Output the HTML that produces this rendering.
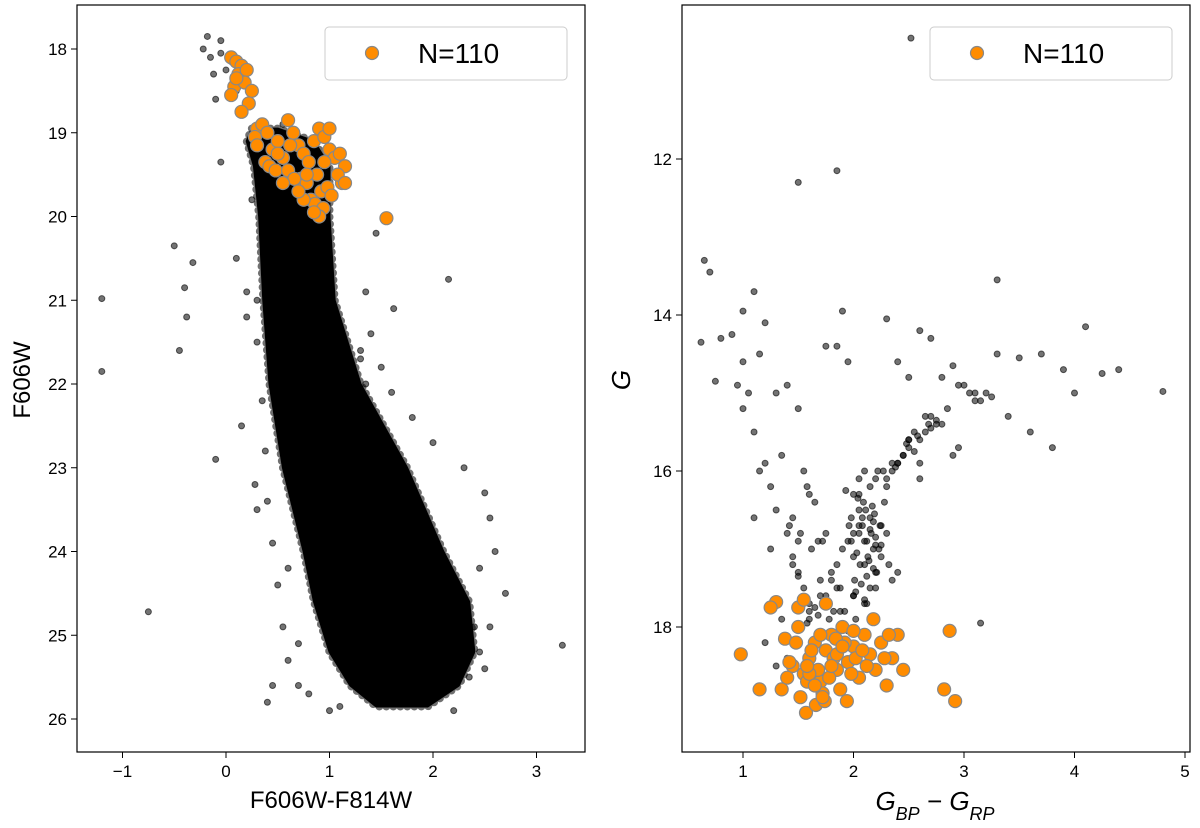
<!DOCTYPE html>
<html><head><meta charset="utf-8"><style>
body{margin:0;background:#fff;}
svg{display:block;font-family:"Liberation Sans",sans-serif;}
</style></head><body>
<svg id="fig" width="1200" height="828" viewBox="0 0 1200 828"></svg>
<script>
// ---- Left panel data (F606W-F814W, F606W) ----
const leftXTicks=[-1,0,1,2,3];
const leftYTicks=[18,19,20,21,22,23,24,25,26];
// dense main-sequence envelope: magnitude, blue edge, red edge
const envMag=[18.95,19.1,19.4,20.0,21.0,22.0,23.0,24.0,24.6,25.2,25.6,25.85];
const envBlue=[0.25,0.2,0.27,0.32,0.36,0.42,0.55,0.75,0.85,1.0,1.2,1.45];
const envRed=[0.5,0.85,1.0,1.0,1.05,1.3,1.75,2.1,2.35,2.4,2.25,1.95];
const leftBlackX=[-0.18,-0.22,-0.05,0.0,-0.1,-0.05,-0.12,0.05,0.1,-0.15,0.55,0.62,0.45,0.35,-0.05,0.25,-1.2,-1.2,-0.5,-0.4,-0.38,-0.45,-0.32,-0.75,-0.1,0.2,0.3,0.1,0.2,1.35,1.62,2.15,1.3,1.5,1.6,1.8,2.0,2.3,2.5,2.55,2.6,2.45,2.7,2.55,3.25,1.45,1.1,1.2,0.15,0.28,0.3,0.7,0.45,0.4,1.9,2.2,2.35,0.6,0.5,1.15,1.2,1.25,1.3,1.35,1.4,1.5,1.55,1.6,1.7,1.8,1.9,2.0,2.1,2.2,2.3,2.4,2.45,2.5,1.4,1.45,1.65,1.75,1.85,1.95,2.05,2.25,0.3,0.35,0.38,0.4,0.45,0.5,0.55,0.6,0.7,0.8,1.0,1.1];
const leftBlackY=[17.85,18.0,17.9,18.25,18.6,18.05,18.3,18.15,18.5,18.1,18.9,19.05,19.5,19.6,19.35,19.8,20.98,21.85,20.35,20.85,21.2,21.6,20.55,24.72,22.9,21.2,21.0,20.5,20.9,20.9,21.1,20.75,21.6,21.8,22.1,22.4,22.7,23.0,23.3,23.6,24.0,24.2,24.5,24.9,25.12,20.2,21.3,21.8,22.5,23.2,23.5,25.1,25.6,25.8,24.8,25.9,25.5,24.2,21.9,21.5,21.9,22.2,21.7,22.0,22.4,22.6,22.9,23.1,23.3,23.6,23.9,24.1,24.4,24.6,24.8,24.9,25.2,25.4,21.4,22.8,23.0,23.5,24.0,24.3,24.7,25.3,21.5,22.2,22.8,23.4,23.9,24.4,24.9,25.3,25.6,25.7,25.9,25.85];
const leftOrangeX=[0.05,0.1,0.15,0.12,0.2,0.08,0.18,0.05,0.25,0.22,0.15,0.1,0.3,0.28,0.35,0.4,0.45,0.5,0.55,0.6,0.38,0.42,0.48,0.65,0.7,0.75,0.8,0.85,0.9,0.95,1.0,1.05,1.1,1.15,0.72,0.78,0.88,0.92,0.98,1.02,1.12,0.6,0.66,0.82,0.86,0.94,0.75,0.7,1.08,0.9,0.55,0.5,0.62,1.0,0.95,1.55,0.3,0.85,1.15,0.78];
const leftOrangeY=[18.1,18.15,18.2,18.3,18.25,18.45,18.4,18.55,18.5,18.65,18.75,18.35,18.95,19.05,18.9,19.0,19.2,19.1,19.3,18.85,19.35,19.4,19.45,19.0,19.15,19.25,19.35,19.1,18.95,19.05,19.2,19.3,19.25,19.4,19.55,19.6,19.5,19.7,19.65,19.75,19.6,19.45,19.55,19.8,19.85,19.9,19.8,19.7,19.5,20.0,19.6,19.25,19.15,18.95,19.35,20.02,19.15,19.95,19.6,19.5];
// ---- Right panel data (GBP-GRP, G) ----
const rightXTicks=[1,2,3,4,5];
const rightYTicks=[12,14,16,18];
const rightBlackX=[2.52,1.5,1.85,0.65,0.7,0.62,0.8,0.9,1.0,1.1,1.15,1.2,0.75,1.3,1.4,1.5,1.85,1.9,1.95,2.3,2.4,2.6,2.8,2.9,3.0,3.1,3.2,3.3,3.5,3.7,3.9,4.1,4.25,4.4,4.8,4.0,3.8,3.25,2.7,2.5,2.45,2.35,2.2,2.1,2.0,2.05,2.15,2.25,2.3,1.95,1.9,2.0,2.1,2.2,1.8,1.7,1.6,1.5,1.45,1.4,1.3,1.25,1.2,1.1,1.05,1.0,0.95,1.35,1.55,1.65,1.75,1.85,2.4,2.55,2.65,2.75,2.85,2.95,3.05,3.15,3.4,2.9,2.6,2.3,2.05,2.12,2.18,1.98,2.08,2.2,2.15,2.0,1.92,2.25,2.28,1.88,1.82,2.02,2.1,2.32,1.6,1.7,1.4,1.3,1.2,1.5,1.15,1.45,1.6,1.35,1.78,3.15,1.25,1.1,1.0,2.5,2.6,2.8,2.95,3.1,3.3,3.6,1.58,1.68,2.22,2.4,2.35,1.95,2.05,1.75,2.5,2.7,
2.0,2.05,2.1,2.15,2.2,2.25,2.03,2.08,2.13,2.18,2.23,1.98,2.06,2.11,2.16,2.21,2.01,2.09,2.14,2.19,2.04,2.12,2.17,2.07,1.96,2.24,2.0,2.1,2.2,2.15,2.05,1.93,2.27,2.12,2.02,2.18,2.3,2.35,2.4,2.45,2.5,2.55,2.6,2.65,2.7,2.75,2.38,2.48,2.58,2.68,1.85,1.8,1.75,1.7,1.65,1.6,1.55,1.5,1.45,1.72,1.62,1.52,1.42,1.88,1.78,1.68,1.58];
const rightBlackY=[10.45,12.3,12.15,13.3,13.45,14.35,14.3,14.25,13.95,13.7,14.5,14.1,14.85,15.0,14.9,15.2,14.4,13.95,14.6,14.05,14.6,14.2,14.8,14.65,14.9,15.1,15.0,13.55,14.55,14.5,14.7,14.15,14.75,14.7,14.98,15.0,15.7,15.05,15.3,15.6,15.8,15.9,16.1,16.0,16.3,16.5,16.6,16.7,16.8,16.9,17.0,17.1,17.2,16.95,17.4,17.6,17.7,17.3,17.1,16.8,16.5,16.2,15.9,15.5,15.0,14.6,14.9,15.8,16.0,16.4,16.8,17.2,15.9,15.5,15.3,15.4,15.2,15.7,15.0,15.1,15.3,15.8,15.9,16.2,16.8,16.9,17.0,16.6,16.7,17.3,17.5,17.6,17.8,17.1,16.4,17.5,17.8,17.9,17.7,17.2,17.9,18.1,18.4,18.5,18.2,16.9,16.0,16.6,16.3,17.9,18.5,17.95,17.0,16.6,15.2,15.6,16.1,15.4,14.9,15.0,14.5,15.5,16.2,16.9,16.0,17.3,17.4,18.05,16.3,14.4,14.8,14.3,
16.8,16.7,16.9,16.75,16.85,16.95,17.05,16.6,17.1,16.65,17.0,16.9,17.2,16.5,16.8,17.3,17.4,16.4,17.15,16.55,16.35,17.35,16.45,17.45,16.7,16.7,17.6,17.65,17.5,16.2,16.1,16.25,16.0,17.7,17.55,17.25,16.1,16.0,15.9,15.8,15.7,15.75,15.6,15.5,15.45,15.35,15.95,15.65,15.55,15.4,17.5,17.3,17.6,17.4,17.75,17.8,17.5,17.35,17.2,16.9,17.0,16.8,16.7,17.8,17.9,17.85,17.95];
const rightOrangeX=[0.98,1.15,1.3,1.38,1.45,1.5,1.55,1.6,1.65,1.7,1.75,1.8,1.85,1.9,1.95,2.0,2.05,2.1,2.15,2.2,2.25,2.3,2.35,2.4,1.35,1.42,1.52,1.58,1.62,1.68,1.72,1.78,1.82,1.88,1.92,1.98,2.02,2.08,2.12,1.48,1.57,1.66,1.74,1.84,1.94,2.32,2.45,2.82,2.87,2.92,1.55,1.75,1.6,1.7,1.85,2.0,1.65,1.8,1.9,1.5,1.4,1.25,1.58,1.72,2.18,2.28];
const rightOrangeY=[18.35,18.8,17.68,18.15,18.5,17.75,18.6,18.4,18.2,18.7,18.3,18.1,18.55,18.0,18.45,18.25,18.65,18.1,18.35,18.55,18.2,18.75,18.4,18.1,18.8,18.45,18.9,18.7,18.3,18.55,18.85,18.65,18.4,18.8,18.2,18.6,18.4,18.3,18.5,18.2,19.1,19.0,18.95,18.15,18.95,18.1,18.55,18.8,18.05,18.95,17.65,17.7,18.6,18.1,18.35,18.05,18.75,18.5,18.25,18.0,18.65,17.75,18.5,18.9,17.9,18.4];

const NS="http://www.w3.org/2000/svg";
const svg=document.getElementById('fig');
function mk(tag,attrs,parent){const e=document.createElementNS(NS,tag);for(const k in attrs)e.setAttribute(k,attrs[k]);(parent||svg).appendChild(e);return e;}
function panel(name,box,xs,ys,xTicks,yTicks){
  const g=mk('g',{});
  
  
  const sx=v=>xs.p0+(v-xs.v0)*xs.k, sy=v=>ys.p0+(v-ys.v0)*ys.k;
  xTicks.forEach(t=>{const x=sx(t);
    const l=mk('line',{x1:x,x2:x,y1:box.y2,y2:box.y2+6,stroke:'#000','stroke-width':1},g);
    
    const tx=mk('text',{x:x,y:box.y2+25,'font-size':17,'text-anchor':'middle'},g);tx.textContent=t<0?'\u2212'+(-t):t;
    });
  yTicks.forEach(t=>{const y=sy(t);
    const l=mk('line',{x1:box.x1-6,x2:box.x1,y1:y,y2:y,stroke:'#000','stroke-width':1},g);
    
    const tx=mk('text',{x:box.x1-10,y:y+6,'font-size':17,'text-anchor':'end'},g);tx.textContent=t;
    });
  return {g,sx,sy};
}
function dots(P,X,Y,name,orange){
  for(let i=0;i<X.length;i++){
    const c=mk('circle',orange?{cx:P.sx(X[i]),cy:P.sy(Y[i]),r:6.5,fill:'#ff8c00',stroke:'#888','stroke-width':1.2}:{cx:P.sx(X[i]),cy:P.sy(Y[i]),r:3,fill:'#000','fill-opacity':0.55,stroke:'#000','stroke-opacity':0.6,'stroke-width':1},P.g);
    
    
  }
}
function frame(P,box){
  const r=mk('rect',{x:box.x1,y:box.y1,width:box.x2-box.x1,height:box.y2-box.y1,fill:'none',stroke:'#000','stroke-width':1.2},P.g);
  
}
function legend(P,x){
  const lg=mk('g',{},P.g);
  
  mk('rect',{x:x,y:27,width:242,height:53,rx:4,fill:'#fff',stroke:'#ccc','stroke-width':1},lg);
  mk('circle',{cx:x+47,cy:53,r:6.5,fill:'#ff8c00',stroke:'#888','stroke-width':1.2},lg);
  const t=mk('text',{x:x+93,y:63,'font-size':28},lg);t.textContent='N=110';
  
}
// Left
const LB={x1:77,y1:5,x2:585,y2:752};
const L=panel('left-panel',LB,{v0:0,p0:226,k:103.5},{v0:18,p0:49,k:83.75},leftXTicks,leftYTicks);
let pts=[];
for(let i=0;i<envMag.length;i++)pts.push(L.sx(envBlue[i])+','+L.sy(envMag[i]));
for(let i=envMag.length-1;i>=0;i--)pts.push(L.sx(envRed[i])+','+L.sy(envMag[i]));
const fringe=mk('polygon',{points:pts.join(' '),fill:'none',stroke:'#333','stroke-width':8,'stroke-dasharray':'0 7','stroke-linecap':'round','stroke-opacity':0.7},L.g);

const poly=mk('polygon',{points:pts.join(' '),fill:'#000',stroke:'#000','stroke-width':2,'stroke-linejoin':'round'},L.g);

dots(L,leftBlackX,leftBlackY,'star-point',false);
dots(L,leftOrangeX,leftOrangeY,'selected-star',true);
frame(L,LB);legend(L,325);
let t=mk('text',{x:331,y:808,'font-size':24,'text-anchor':'middle'});t.textContent='F606W-F814W';

t=mk('text',{x:0,y:0,'font-size':24,'text-anchor':'middle',transform:'translate(30,380) rotate(-90)'});t.textContent='F606W';

// Right
const RB={x1:682,y1:5,x2:1190,y2:752};
const R=panel('right-panel',RB,{v0:1,p0:743,k:110.5},{v0:12,p0:159,k:78},rightXTicks,rightYTicks);
dots(R,rightBlackX,rightBlackY,'star-point',false);
dots(R,rightOrangeX,rightOrangeY,'selected-star',true);
frame(R,RB);legend(R,930);
t=mk('text',{x:935,y:810,'font-size':26,'text-anchor':'middle','font-style':'italic'});
t.innerHTML='G<tspan baseline-shift="sub" font-size="18">BP</tspan> \u2212 G<tspan baseline-shift="sub" font-size="18">RP</tspan>';

t=mk('text',{x:0,y:0,'font-size':26,'text-anchor':'middle','font-style':'italic',transform:'translate(630,380) rotate(-90)'});t.textContent='G';

</script>
</body></html>
